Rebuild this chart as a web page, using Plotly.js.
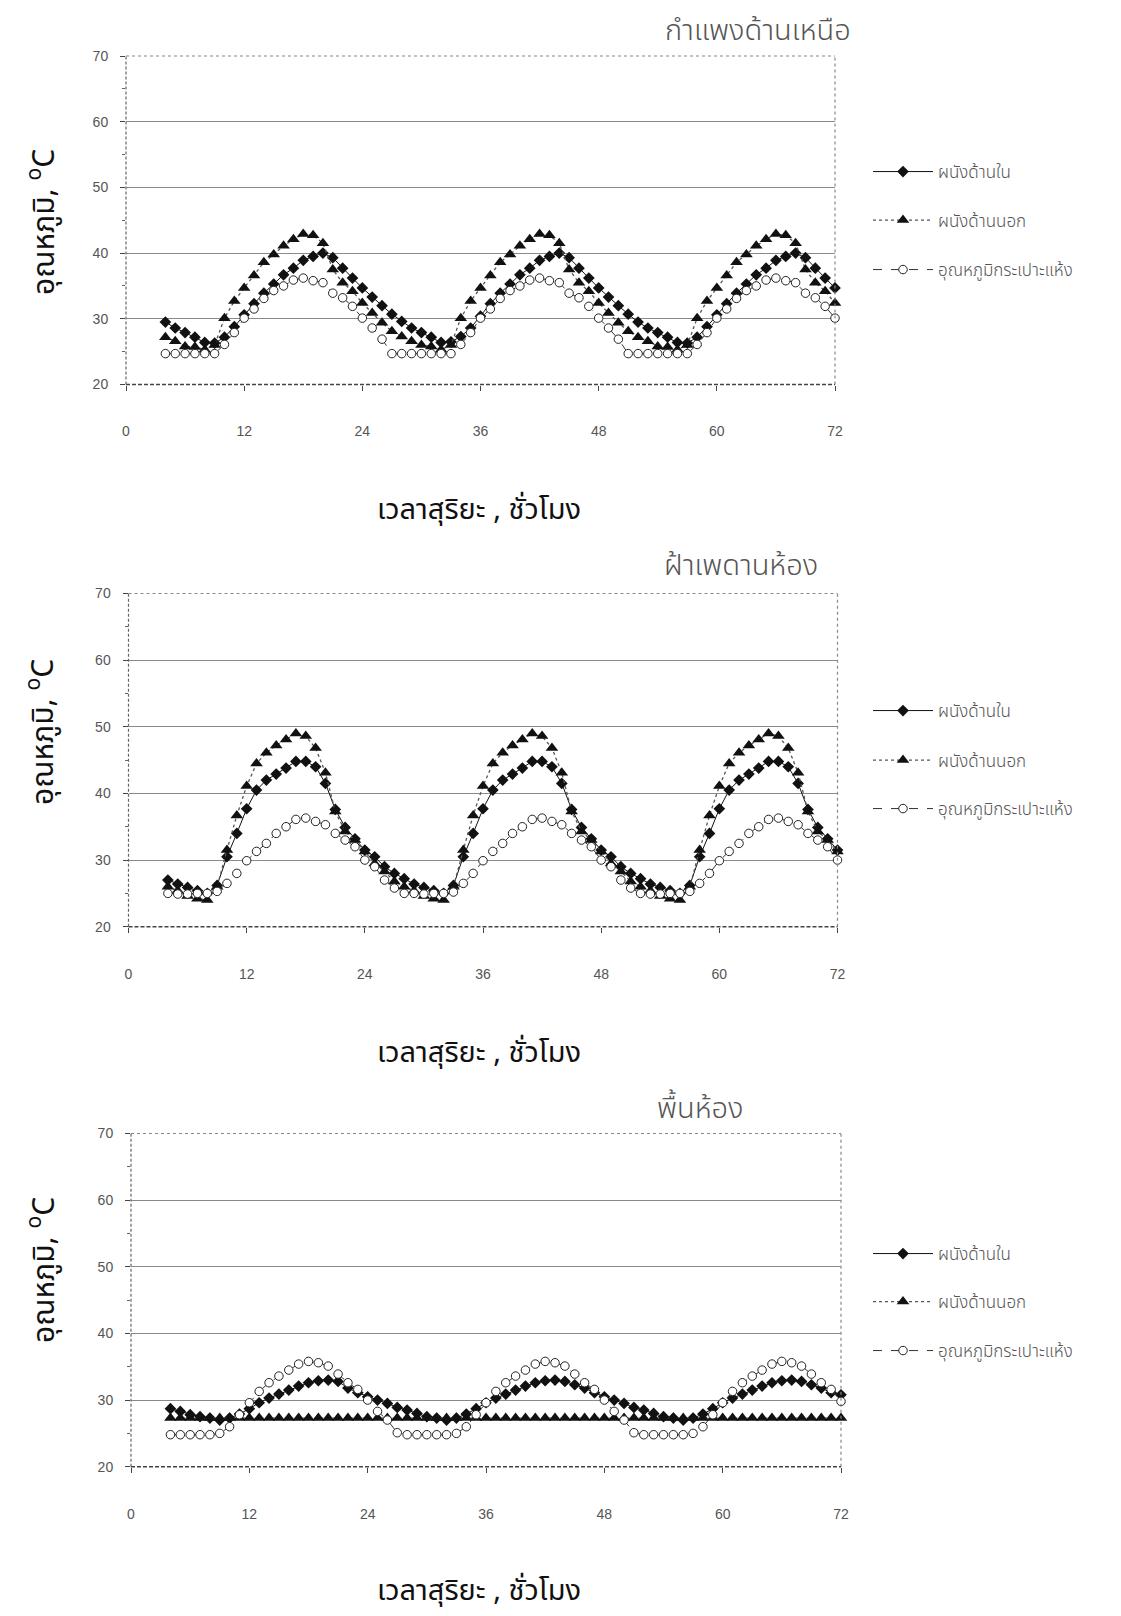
<!DOCTYPE html>
<html>
<head>
<meta charset="utf-8">
<script src="https://cdn.plot.ly/plotly-3.0.1.min.js"></script>
<style>
  html, body { margin: 0; padding: 0; background: #fff; }
  #chart { width: 1121px; height: 1616px; }
</style>
</head>
<body>
<div id="chart"></div>
<script>
// Solar time, hours
const hours = [
  4, 5, 6, 7, 8, 9, 10, 11, 12, 13, 14, 15, 16, 17, 18, 19, 20, 21, 22, 23, 24, 25, 26, 27,
  28, 29, 30, 31, 32, 33, 34, 35, 36, 37, 38, 39, 40, 41, 42, 43, 44, 45, 46, 47, 48, 49, 50, 51,
  52, 53, 54, 55, 56, 57, 58, 59, 60, 61, 62, 63, 64, 65, 66, 67, 68, 69, 70, 71, 72
];

// North wall (°C)
const northInner = [
  29.5, 28.6, 27.9, 27.2, 26.4, 26.3, 27.2, 28.8, 30.6, 32.3, 33.9, 35.3, 36.7, 37.7, 38.9, 39.5, 40.0, 39.3, 37.7, 36.2, 34.7, 33.3, 32.0, 30.7,
  29.6, 28.6, 27.9, 27.2, 26.4, 26.5, 27.3, 28.6, 30.4, 32.3, 33.9, 35.3, 36.7, 37.7, 38.9, 39.5, 40.0, 39.3, 37.7, 36.2, 34.7, 33.3, 32.0, 30.7,
  29.5, 28.6, 27.9, 27.2, 26.4, 26.3, 27.2, 28.8, 30.6, 32.3, 33.9, 35.3, 36.7, 37.7, 38.9, 39.5, 40.0, 39.3, 37.7, 36.2, 34.7
];
const northOuter = [
  27.2, 26.6, 25.8, 25.7, 25.3, 26.0, 30.1, 32.7, 34.7, 36.6, 38.6, 39.8, 41.1, 42.1, 42.9, 42.7, 41.5, 37.5, 35.5, 34.2, 32.4, 30.9, 29.4, 28.1,
  27.3, 26.6, 26.0, 25.8, 25.3, 26.0, 30.1, 32.7, 34.7, 36.6, 38.6, 39.8, 41.1, 42.1, 42.9, 42.7, 41.5, 37.5, 35.5, 34.2, 32.4, 30.9, 29.4, 28.1,
  27.2, 26.6, 25.8, 25.7, 25.3, 26.0, 30.1, 32.7, 34.7, 36.6, 38.6, 39.8, 41.1, 42.1, 42.9, 42.7, 41.5, 37.5, 35.5, 34.2, 32.4
];
const northDryBulb = [
  24.7, 24.7, 24.7, 24.7, 24.7, 24.7, 26.1, 27.9, 30.1, 31.5, 33.1, 34.3, 35.0, 35.9, 36.2, 35.8, 35.5, 33.9, 33.2, 31.9, 30.1, 28.6, 26.9, 24.7,
  24.7, 24.7, 24.7, 24.7, 24.7, 24.7, 26.1, 27.9, 30.1, 31.5, 33.1, 34.3, 35.0, 35.9, 36.2, 35.8, 35.5, 33.9, 33.2, 31.9, 30.1, 28.6, 26.9, 24.7,
  24.7, 24.7, 24.7, 24.7, 24.7, 24.7, 26.1, 27.9, 30.1, 31.5, 33.1, 34.3, 35.0, 35.9, 36.2, 35.8, 35.5, 33.9, 33.2, 31.9, 30.1
];

// Ceiling (°C)
const ceilingInner = [
  27.0, 26.4, 25.9, 25.4, 25.0, 26.2, 30.5, 34.0, 37.7, 40.5, 42.0, 42.9, 43.8, 44.8, 44.8, 44.0, 41.5, 37.6, 34.9, 33.2, 31.5, 30.5, 29.0, 28.0,
  27.2, 26.4, 25.9, 25.4, 25.0, 26.2, 30.5, 34.0, 37.7, 40.5, 42.0, 42.9, 43.8, 44.8, 44.8, 44.0, 41.5, 37.6, 34.9, 33.2, 31.5, 30.5, 29.0, 28.0,
  27.2, 26.4, 25.9, 25.4, 25.0, 26.2, 30.5, 34.0, 37.7, 40.5, 42.0, 42.9, 43.8, 44.8, 44.8, 44.0, 41.5, 37.6, 34.9, 33.2, 31.5
];
const ceilingOuter = [
  26.0, 25.4, 24.6, 24.2, 24.0, 26.0, 31.5, 36.7, 41.1, 44.5, 46.1, 47.2, 48.1, 49.0, 48.6, 46.8, 43.1, 37.3, 34.3, 33.0, 31.3, 29.5, 28.3, 26.8,
  26.0, 25.4, 24.6, 24.2, 24.0, 26.0, 31.5, 36.7, 41.1, 44.5, 46.1, 47.2, 48.1, 49.0, 48.6, 46.8, 43.1, 37.3, 34.3, 33.0, 31.3, 29.5, 28.3, 26.8,
  26.0, 25.4, 24.6, 24.2, 24.0, 26.0, 31.5, 36.7, 41.1, 44.5, 46.1, 47.2, 48.1, 49.0, 48.6, 46.8, 43.1, 37.3, 34.3, 33.0, 31.3
];
const ceilingDryBulb = [
  25.0, 24.9, 24.9, 25.0, 25.0, 25.3, 26.5, 28.0, 29.9, 31.3, 32.5, 34.0, 35.0, 36.1, 36.3, 35.8, 35.3, 34.0, 33.0, 32.0, 30.0, 29.0, 27.0, 25.8,
  25.0, 25.0, 24.9, 25.0, 25.0, 25.2, 26.5, 28.0, 29.9, 31.3, 32.5, 34.0, 35.0, 36.1, 36.3, 35.8, 35.3, 34.0, 33.0, 32.0, 30.0, 29.0, 27.0, 25.8,
  25.0, 24.9, 24.9, 25.0, 25.0, 25.3, 26.5, 28.0, 29.9, 31.3, 32.5, 34.0, 35.0, 36.1, 36.3, 35.8, 35.3, 34.0, 33.0, 32.0, 30.0
];

// Floor (°C)
const floorInner = [
  28.7, 28.3, 27.8, 27.5, 27.3, 27.0, 27.3, 27.9, 28.7, 29.6, 30.3, 30.9, 31.5, 32.1, 32.6, 32.9, 33.0, 32.8, 31.8, 31.1, 30.5, 30.0, 29.5, 28.9,
  28.5, 28.0, 27.5, 27.3, 27.0, 27.3, 27.9, 28.7, 29.6, 30.3, 30.9, 31.5, 32.1, 32.6, 32.9, 33.0, 32.8, 32.3, 31.8, 31.1, 30.5, 30.0, 29.5, 28.9,
  28.5, 28.0, 27.5, 27.3, 27.0, 27.3, 27.9, 28.7, 29.6, 30.3, 30.9, 31.5, 32.1, 32.6, 32.9, 33.0, 32.8, 32.3, 31.8, 31.1, 30.8
];
const floorOuter = [
  27.3, 27.3, 27.3, 27.3, 27.3, 27.3, 27.3, 27.3, 27.3, 27.3, 27.3, 27.3, 27.3, 27.3, 27.3, 27.3, 27.3, 27.3, 27.3, 27.3, 27.3, 27.3, 27.3, 27.3,
  27.3, 27.3, 27.3, 27.3, 27.3, 27.3, 27.3, 27.3, 27.3, 27.3, 27.3, 27.3, 27.3, 27.3, 27.3, 27.3, 27.3, 27.3, 27.3, 27.3, 27.3, 27.3, 27.3, 27.3,
  27.3, 27.3, 27.3, 27.3, 27.3, 27.3, 27.3, 27.3, 27.3, 27.3, 27.3, 27.3, 27.3, 27.3, 27.3, 27.3, 27.3, 27.3, 27.3, 27.3, 27.3
];
const floorDryBulb = [
  24.8, 24.8, 24.8, 24.8, 24.8, 25.0, 26.0, 27.8, 29.6, 31.3, 32.6, 33.6, 34.5, 35.4, 35.8, 35.6, 35.1, 33.9, 32.6, 31.6, 30.0, 28.3, 27.0, 25.1,
  24.8, 24.8, 24.8, 24.8, 24.8, 25.0, 26.0, 27.8, 29.6, 31.3, 32.6, 33.6, 34.5, 35.4, 35.8, 35.6, 35.1, 33.9, 32.6, 31.6, 30.0, 28.3, 27.0, 25.1,
  24.8, 24.8, 24.8, 24.8, 24.8, 25.0, 26.0, 27.8, 29.6, 31.3, 32.6, 33.6, 34.5, 35.4, 35.8, 35.6, 35.1, 33.9, 32.6, 31.6, 29.8
];

const seriesNames = ['ผนังด้านใน', 'ผนังด้านนอก', 'อุณหภูมิกระเปาะแห้ง'];
const panelTitles = ['กำแพงด้านเหนือ', 'ฝ้าเพดานห้อง', 'พื้นห้อง'];
const xTickVals = [0, 12, 24, 36, 48, 60, 72];
const yTickVals = [20, 30, 40, 50, 60, 70];
const xAxisTitle = 'เวลาสุริยะ , ชั่วโมง';
const yAxisTitle = 'อุณหภูมิ, <sup>o</sup>C';

const panelData = [
  [northInner, northOuter, northDryBulb],
  [ceilingInner, ceilingOuter, ceilingDryBulb],
  [floorInner, floorOuter, floorDryBulb]
];

// ---- page geometry (px) ----
const W = 1121, H = 1616;
const panels = [
  { left: 126, right: 835, top: 56,   bottom: 384.5,  xTitleY: 510,  yTitleY: 222,  titleRight: 853, titleY: 31,
    legendY: [172, 220.5, 270] },
  { left: 128.5, right: 837.5, top: 593.5, bottom: 926.7, xTitleY: 1053, yTitleY: 732, titleRight: 820, titleY: 566,
    legendY: [711, 760.5, 809] },
  { left: 131, right: 841, top: 1133.5, bottom: 1466.7, xTitleY: 1591, yTitleY: 1270, titleRight: 745, titleY: 1109,
    legendY: [1254, 1302, 1351] }
];

const THAI = '"Noto Sans Thai", "Noto Sans Thai UI", Loma, Garuda, Kinnari, "Tlwg Typo", "Noto Sans", sans-serif';
const NUM = '"Liberation Sans", Arial, sans-serif';

const styles = [
  { mode: 'lines+markers', line: { color: '#111', width: 1, dash: 'solid' },
    marker: { symbol: 'diamond', size: 9, color: '#111' } },
  { mode: 'lines+markers', line: { color: '#555', width: 1.3, dash: 'dot' },
    marker: { symbol: 'triangle-up', size: 11, color: '#111' } },
  { mode: 'lines+markers', line: { color: '#333', width: 1, dash: 'dash' },
    marker: { symbol: 'circle', size: 8.5, color: '#fff', line: { color: '#222', width: 1 } } }
];

const traces = [];
const layout = {
  width: W, height: H,
  margin: { l: 0, r: 0, t: 0, b: 0 },
  paper_bgcolor: '#fff', plot_bgcolor: '#fff',
  showlegend: true,
  shapes: [], annotations: []
};

panels.forEach((p, i) => {
  const sfx = i === 0 ? '' : String(i + 1);
  const xa = 'x' + sfx, ya = 'y' + sfx;

  layout['xaxis' + sfx] = {
    domain: [p.left / W, p.right / W], anchor: ya,
    range: [0, 72], tickvals: xTickVals, ticktext: xTickVals.map(String),
    ticks: 'outside', ticklen: 5, tickcolor: '#444', tickwidth: 1,
    ticklabelstandoff: 29,
    tickfont: { family: NUM, size: 14, color: '#555' },
    showgrid: false, zeroline: false, showline: false, fixedrange: true
  };
  layout['yaxis' + sfx] = {
    domain: [1 - p.bottom / H, 1 - p.top / H], anchor: xa,
    range: [20, 70], tickvals: yTickVals, ticktext: yTickVals.map(String),
    ticks: 'outside', ticklen: 5, tickcolor: '#444', tickwidth: 1,
    ticklabelstandoff: 9,
    minor: { dtick: 5, tick0: 0, ticks: 'outside', ticklen: 3, tickcolor: '#666', showgrid: false },
    tickfont: { family: NUM, size: 14, color: '#555' },
    showgrid: true, gridcolor: '#8a8a8a', gridwidth: 1,
    zeroline: false, showline: false, fixedrange: true
  };

  // frame: dotted top and right, dashed left axis and baseline
  const xd = xa + ' domain', yd = ya + ' domain';
  layout.shapes.push(
    { type: 'line', xref: xd, yref: yd, x0: 0, x1: 1, y0: 1, y1: 1, line: { color: '#888', width: 1.2, dash: 'dot' } },
    { type: 'line', xref: xd, yref: yd, x0: 1, x1: 1, y0: 0, y1: 1, line: { color: '#888', width: 1.2, dash: 'dot' } },
    { type: 'line', xref: xd, yref: yd, x0: 0, x1: 0, y0: 0, y1: 1, line: { color: '#666', width: 1.2, dash: '3px,2px' } },
    { type: 'line', xref: xd, yref: yd, x0: 0, x1: 1, y0: 0, y1: 0, line: { color: '#444', width: 1.4, dash: '4px,2px' } }
  );

  // panel title, axis titles
  layout.annotations.push(
    { text: panelTitles[i], xref: 'paper', yref: 'paper', x: p.titleRight / W, y: 1 - p.titleY / H,
      xanchor: 'right', yanchor: 'middle', showarrow: false,
      font: { family: THAI, size: 29, weight: 300, color: '#555' } },
    { text: xAxisTitle, xref: 'paper', yref: 'paper', x: 479 / W, y: 1 - p.xTitleY / H,
      xanchor: 'center', yanchor: 'middle', showarrow: false,
      font: { family: THAI, size: 29, color: '#111' } },
    { text: yAxisTitle, xref: 'paper', yref: 'paper', x: 43 / W, y: 1 - p.yTitleY / H,
      xanchor: 'center', yanchor: 'middle', showarrow: false, textangle: -90,
      font: { family: THAI, size: 30, color: '#111' } }
  );

  panelData[i].forEach((vals, j) => {
    const n = i * 3 + j + 1;
    const lg = n === 1 ? 'legend' : 'legend' + n;
    traces.push(Object.assign({
      type: 'scatter', x: hours, y: vals, name: seriesNames[j],
      xaxis: xa, yaxis: ya, legend: lg, cliponaxis: false, hoverinfo: 'x+y+name'
    }, JSON.parse(JSON.stringify(styles[j]))));
    layout[lg] = {
      x: 868 / W, y: 1 - p.legendY[j] / H, xanchor: 'left', yanchor: 'middle',
      bgcolor: 'rgba(0,0,0,0)', borderwidth: 0, itemwidth: 60,
      font: { family: THAI, size: 17, weight: 300, color: '#555' }
    };
  });
});

Plotly.newPlot('chart', traces, layout, { staticPlot: true, displayModeBar: false });
</script>
</body>
</html>
